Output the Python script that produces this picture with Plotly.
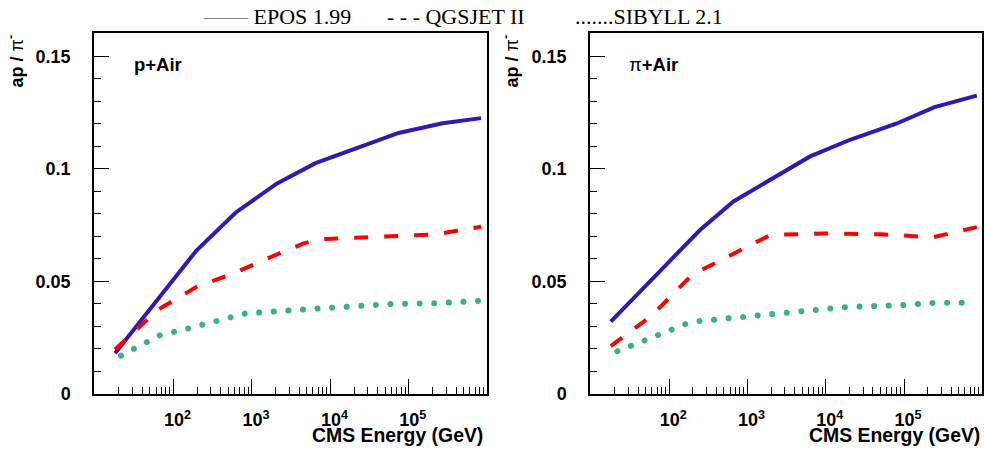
import plotly.graph_objects as go

# ---------------- data (CMS energy in GeV, ratio ap/pi-) ----------------
# p + Air
e_epos_p = [18, 195, 617, 2090, 6460, 74100, 269000, 832000]
v_epos_p = [0.0181, 0.0636, 0.0805, 0.0935, 0.1025, 0.1159, 0.1202, 0.1225]

e_qgs_p = [18, 64.6, 200, 525, 2090, 4570, 7410, 61700, 141000, 219000, 832000]
v_qgs_p = [0.0198, 0.0376, 0.0477, 0.0529, 0.0620, 0.0669, 0.0687, 0.0703, 0.0707, 0.0709, 0.0743]

e_sib_p = [21.4, 67.6, 158, 832, 7240, 61700, 224000, 832000]
v_sib_p = [0.0170, 0.0261, 0.0292, 0.0358, 0.0380, 0.0400, 0.0403, 0.0414]

# pi + Air
e_epos_pi = [17.9, 245, 661, 6310, 20400, 79400, 245000, 851000]
v_epos_pi = [0.0321, 0.0727, 0.0855, 0.1055, 0.1129, 0.1200, 0.1274, 0.1325]

e_qgs_pi = [17.9, 59.6, 195, 1950, 9330, 51300, 234000, 851000]
v_qgs_pi = [0.0213, 0.0348, 0.0529, 0.0706, 0.0713, 0.0709, 0.0696, 0.0741]

e_sib_pi = [21.7, 73.8, 163, 245, 1371, 7590, 18100, 101000, 240000, 589000]
v_sib_pi = [0.0190, 0.0261, 0.0311, 0.0324, 0.0349, 0.0372, 0.0386, 0.0395, 0.0405, 0.0405]

x_major = [1e2, 1e3, 1e4, 1e5]
x_major_text = ["10<sup>2</sup>", "10<sup>3</sup>", "10<sup>4</sup>", "10<sup>5</sup>"]
y_major = [0, 0.05, 0.1, 0.15]
y_major_text = ["0", "0.05", "0.1", "0.15"]

legend_texts = ["<span style='color:#808080'>——</span> EPOS 1.99",
                "- - - QGSJET II", ".......SIBYLL 2.1"]
panel_labels = ["<b>p+Air</b>", "π<b>+Air</b>"]

# ---------------- styling ----------------
W, H = 985, 450
BLUE = "#3318b8"
RED = "#ff0000"
GREEN = "#36b37e"
SANS = "Liberation Sans"
SERIF = "Liberation Serif"

x_minor = [m * 10 ** d for d in range(1, 6) for m in range(2, 10)]

def px(x):
    return x / W

def py(y):
    return 1 - y / H

fig = go.Figure()

def add_panel(xa, ya, e_epos, v_epos, e_qgs, v_qgs, e_sib, v_sib):
    fig.add_trace(go.Scatter(x=e_epos, y=v_epos, mode="lines", xaxis=xa, yaxis=ya,
                             line=dict(color=BLUE, width=4), showlegend=False))
    fig.add_trace(go.Scatter(x=e_qgs, y=v_qgs, mode="lines", xaxis=xa, yaxis=ya,
                             line=dict(color=RED, width=4, dash="14px,16px"), showlegend=False))
    fig.add_trace(go.Scatter(x=e_sib, y=v_sib, mode="lines", xaxis=xa, yaxis=ya,
                             line=dict(color=GREEN, width=6, dash="0.01px,14.6px"), showlegend=False))

add_panel("x", "y", e_epos_p, v_epos_p, e_qgs_p, v_qgs_p, e_sib_p, v_sib_p)
add_panel("x2", "y2", e_epos_pi, v_epos_pi, e_qgs_pi, v_qgs_pi, e_sib_pi, v_sib_pi)

tickfont = dict(family=SANS, size=18, color="black", weight="bold")

def xaxis(domain, anchor):
    return dict(domain=domain, anchor=anchor, type="log", range=[0.987, 5.996],
                tickmode="array", tickvals=x_major, ticktext=x_major_text,
                ticks="inside", ticklen=15, tickwidth=1, tickcolor="black",
                minor=dict(tickmode="array", tickvals=x_minor, ticks="inside",
                           ticklen=7, tickwidth=1, tickcolor="black", showgrid=False),
                showline=True, linecolor="black", linewidth=1.5, mirror=True,
                showgrid=False, zeroline=False, tickfont=tickfont,
                ticklabelstandoff=9, ticklabelshift=4, automargin=False)

def yaxis(anchor):
    return dict(domain=[1 - 394 / H, 1 - 33 / H], anchor=anchor, range=[0, 0.1603],
                tickmode="array", tickvals=y_major, ticktext=y_major_text,
                ticks="inside", ticklen=15, tickwidth=1, tickcolor="black",
                minor=dict(dtick=0.01, tick0=0, ticks="inside", ticklen=7,
                           tickwidth=1, tickcolor="black", showgrid=False),
                showline=True, linecolor="black", linewidth=1.5, mirror=True,
                showgrid=False, zeroline=False, tickfont=tickfont,
                ticklabelstandoff=18, automargin=False)

annotations = []
# top legend line
for txt, cx in zip(legend_texts, [276.5, 456, 649]):
    annotations.append(dict(text=txt, x=px(cx), y=py(16), xref="paper", yref="paper",
                            xanchor="center", yanchor="middle", showarrow=False,
                            font=dict(family=SERIF, size=22, color="black")))
# panel labels
for txt, lx in zip(panel_labels, [132, 627]):
    annotations.append(dict(text=txt, x=px(lx), y=py(64), xref="paper", yref="paper",
                            xanchor="left", yanchor="middle", showarrow=False,
                            font=dict(family=SANS, size=18.5, color="black")))
# y titles
for cx in [16.5, 511.5]:
    annotations.append(dict(text="<b>ap / </b>π<sup><b>-</b></sup>", x=px(cx), y=py(61),
                            xref="paper", yref="paper", xanchor="center", yanchor="middle",
                            textangle=-90, showarrow=False,
                            font=dict(family=SANS, size=18, color="black")))
# x titles
for rx in [485, 982]:
    annotations.append(dict(text="<b>CMS Energy (GeV)</b>", x=px(rx), y=py(435),
                            xref="paper", yref="paper", xanchor="right", yanchor="middle",
                            showarrow=False, font=dict(family=SANS, size=19.4, color="black")))

fig.update_layout(
    width=W, height=H,
    margin=dict(l=0, r=0, t=0, b=0, pad=0),
    paper_bgcolor="white", plot_bgcolor="white",
    xaxis=xaxis([94 / W, 487 / W], "y"),
    yaxis=yaxis("x"),
    xaxis2=xaxis([590 / W, 982 / W], "y2"),
    yaxis2=yaxis("x2"),
    annotations=annotations,
    showlegend=False,
)

post = """
document.body.style.margin='0';
document.body.style.padding='0';
document.querySelectorAll('path.js-line').forEach(function(p){
  if ((p.style.stroke || '').indexOf('54, 179, 126') !== -1) {
    p.style.strokeLinecap = 'round';
  }
});
"""

fig.write_html("out.html", config={"displayModeBar": False}, post_script=post)
